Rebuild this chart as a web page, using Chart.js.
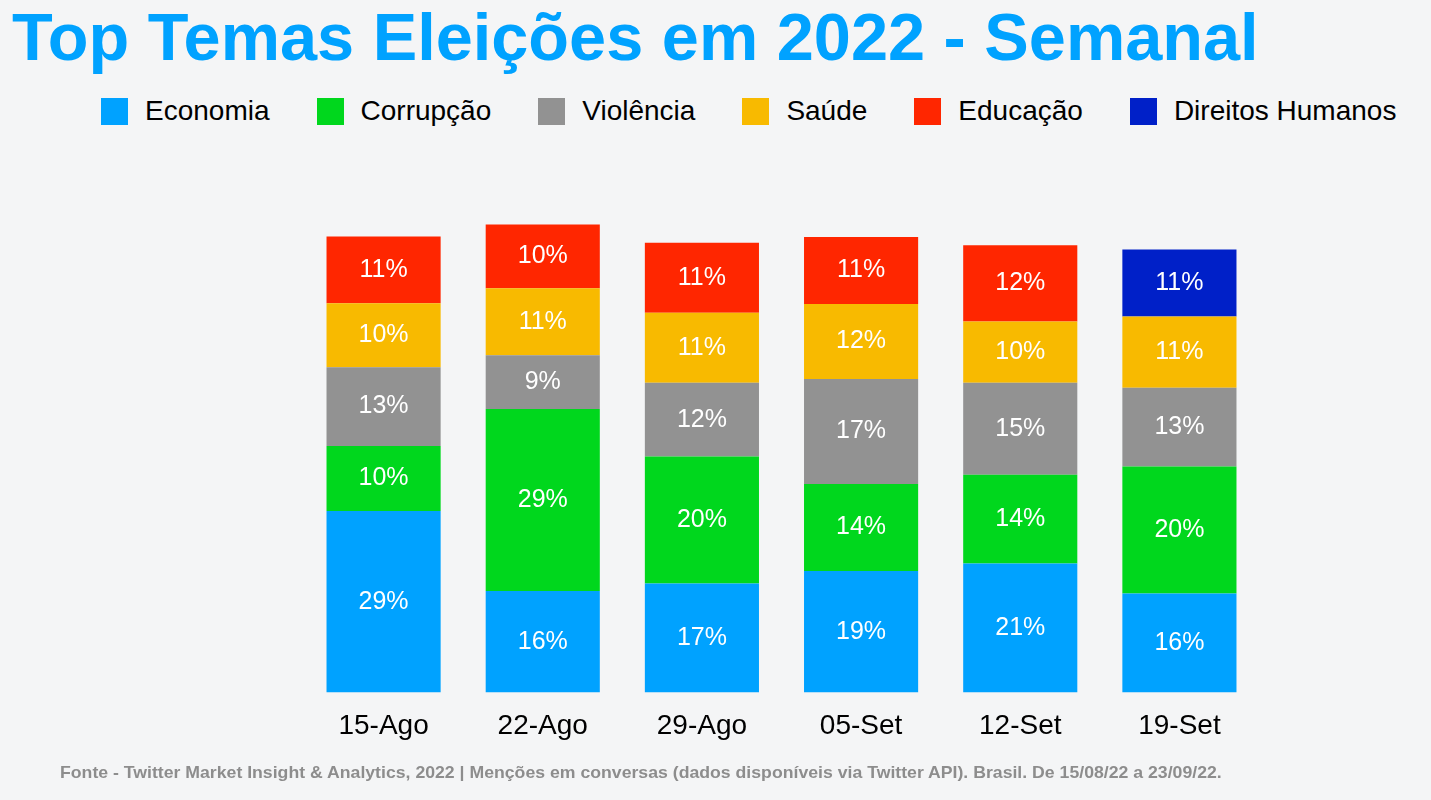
<!DOCTYPE html>
<html lang="pt-BR">
<head>
<meta charset="utf-8">
<title>Top Temas Eleições em 2022 - Semanal</title>
<script src="https://cdn.jsdelivr.net/npm/chart.js@4/dist/chart.umd.min.js"></script>
<style>
  html, body { margin: 0; padding: 0; }
  body {
    width: 1431px; height: 800px; overflow: hidden; position: relative;
    background: #f4f5f6;
    font-family: "Liberation Sans", Arial, sans-serif;
  }
  #title {
    position: absolute; left: 12px; top: 4px;
    font-size: 66.7px; line-height: 1; font-weight: bold; color: #00a2ff;
    white-space: nowrap;
  }
  #legend {
    position: absolute; left: 101px; top: 97px; height: 28px;
    display: flex; align-items: center;
    font-size: 28px; line-height: 1; color: #000; white-space: nowrap;
  }
  #legend .item { display: flex; align-items: center; margin-right: 47px; }
  #legend .box { width: 27px; height: 27px; margin-right: 17px; }
  #note {
    position: absolute; left: 60px; top: 764px;
    font-size: 17px; line-height: 1; font-weight: bold; color: #8d8d8d;
    white-space: nowrap; transform-origin: 0 0;
  }
  #chart { position: absolute; left: 0; top: 0; }
</style>
</head>
<body>
<div id="title">Top Temas Eleições em 2022 - Semanal</div>
<div id="legend"></div>
<canvas id="chart" width="1431" height="800"></canvas>
<div id="note">Fonte - Twitter Market Insight &amp; Analytics, 2022 | Menções em conversas (dados disponíveis via Twitter API). Brasil. De 15/08/22 a 23/09/22.</div>

<script>
// weeks
const weeks = ["15-Ago", "22-Ago", "29-Ago", "05-Set", "12-Set", "19-Set"];

// share of mentions per theme (%)
const economia  = [29.0, 16.2, 17.4, 19.4, 20.6, 15.8];
const corrupcao = [10.4, 29.1, 20.3, 13.9, 14.2, 20.3];
const violencia = [12.6,  8.6, 11.8, 16.8, 14.7, 12.6];
const saude     = [10.2, 10.7, 11.2, 12.0,  9.8, 11.4];
const educacao  = [10.7, 10.2, 11.2, 10.7, 12.2, null];
const direitos  = [null, null, null, null, null, 10.7];

const themes = ["Economia", "Corrupção", "Violência", "Saúde", "Educação", "Direitos Humanos"];
const colors = ["#00a2ff", "#00d71d", "#929292", "#f8ba00", "#ff2600", "#0020c8"];
const series = [economia, corrupcao, violencia, saude, educacao, direitos];

// legend
const legend = document.getElementById("legend");
themes.forEach((name, i) => {
  const item = document.createElement("div");
  item.className = "item";
  item.innerHTML = `<span class="box" style="background:${colors[i]}"></span><span>${name}</span>`;
  legend.appendChild(item);
});

// squeeze the footnote to the source width
const note = document.getElementById("note");
note.style.transform = `scaleX(${1162 / note.offsetWidth})`;

// white % labels in the middle of each segment
const segmentLabels = {
  id: "segmentLabels",
  afterDatasetsDraw(chart) {
    const ctx = chart.ctx;
    ctx.save();
    ctx.fillStyle = "#ffffff";
    ctx.font = '25px "Liberation Sans", Arial, sans-serif';
    ctx.textAlign = "center";
    ctx.textBaseline = "middle";
    chart.data.datasets.forEach((ds, i) => {
      const meta = chart.getDatasetMeta(i);
      meta.data.forEach((bar, j) => {
        const v = ds.data[j];
        if (v == null) return;
        const { x, y, base } = bar.getProps(["x", "y", "base"], true);
        ctx.fillText(Math.round(v) + "%", x, (y + base) / 2);
      });
    });
    ctx.restore();
  }
};

new Chart(document.getElementById("chart").getContext("2d"), {
  type: "bar",
  data: {
    labels: weeks,
    datasets: series.map((data, i) => ({
      label: themes[i],
      data: data,
      backgroundColor: colors[i],
      borderWidth: 0,
      barPercentage: 0.717,
      categoryPercentage: 1
    }))
  },
  options: {
    responsive: false,
    animation: false,
    layout: { padding: { left: 304, right: 172, top: 192, bottom: 40 } },
    plugins: {
      legend: { display: false },
      tooltip: { enabled: false }
    },
    scales: {
      x: {
        stacked: true,
        grid: { display: false, drawTicks: false },
        border: { display: false },
        ticks: {
          color: "#000",
          padding: 17,
          font: { family: '"Liberation Sans", Arial, sans-serif', size: 28 }
        }
      },
      y: {
        stacked: true,
        display: false,
        min: 0,
        max: 80
      }
    }
  },
  plugins: [segmentLabels]
});
</script>
</body>
</html>
